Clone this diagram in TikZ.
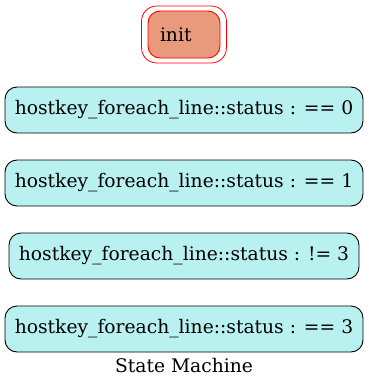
\documentclass[tikz,border=0pt]{standalone}
\usepackage{fontspec}
\setmainfont{DejaVu Serif}
\usetikzlibrary{positioning}
\usetikzlibrary{fit}
\definecolor{initfill}{HTML}{EA9A7C}
\definecolor{statefill}{HTML}{B9F0F0}
\tikzset{lbl/.style={font=\fontsize{18.7pt}{21pt}\selectfont}}
\tikzset{st/.style={lbl,draw=black,line width=0.9pt,rounded corners=12pt,fill=statefill,minimum height=46pt,inner xsep=4pt}}
\tikzset{ini/.style={lbl,draw=red,line width=0.9pt,rounded corners=12pt,fill=initfill,minimum width=72pt,minimum height=47pt,text width=48pt,align=left}}

\begin{document}
\begin{tikzpicture}[x=1pt,y=-1pt]
\useasboundingbox (0,0) rectangle (369,388);
\begin{scope}[on grid]
\node[ini] (init) at (184,34.5) {init};
\node[draw=red,line width=0.8pt,rounded corners=15pt,fit=(init),inner xsep=6pt,inner ysep=4.5pt] (initring) {};

\node[st,minimum width=358pt] (s0) at (184,110) {hostkey\_foreach\_line::status : == 0};
\node[st,minimum width=358pt] (s1) [below=73pt of s0] {hostkey\_foreach\_line::status : == 1};
\node[st,minimum width=350pt] (s2) [below=73pt of s1] {hostkey\_foreach\_line::status : != 3};
\node[st,minimum width=358pt] (s3) [below=73pt of s2] {hostkey\_foreach\_line::status : == 3};

\node[lbl] (title) [below=37pt of s3] {State Machine};
\end{scope}
\end{tikzpicture}
\end{document}
